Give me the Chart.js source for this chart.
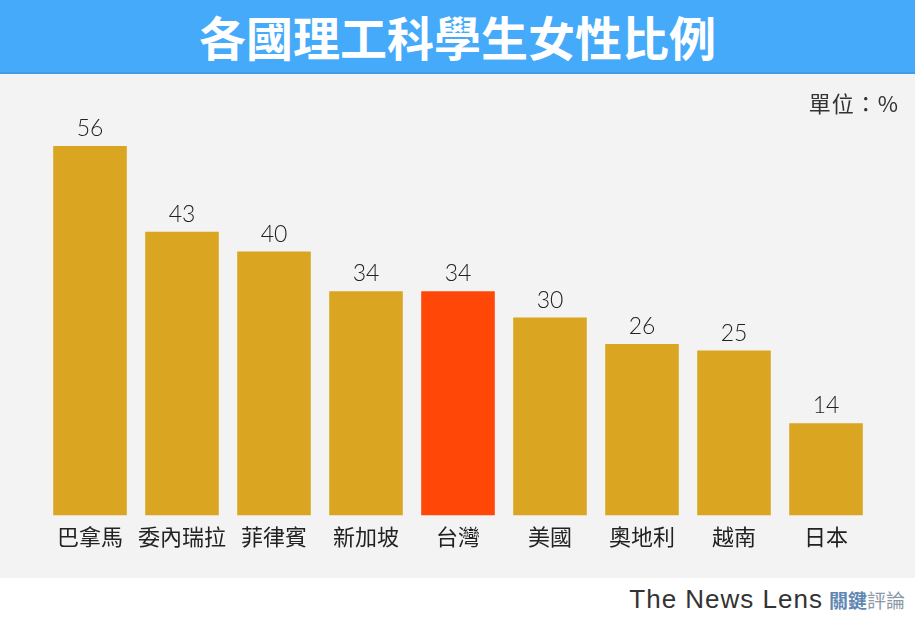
<!DOCTYPE html>
<html>
    <head>
        <title> 各國理工科學生女性比例 </title>
        <script src = "https://cdn.jsdelivr.net/npm/chart.js"> </script>
        <style>
            body { margin: 0; width: 915px; height: 619px; background: #ffffff; font-family: "Noto Sans CJK TC", sans-serif; overflow: hidden; }
            #banner { height: 72px; background: #45aafa; border-bottom: 2px solid #3d9de8; color: #ffffff;
                      font-weight: 700; font-size: 47px; text-align: center; line-height: 72px; }
            #panel { position: relative; height: 504px; background: #f3f3f3; }
            #unit { position: absolute; right: 16px; top: 12px; font-size: 22px; color: #333333; letter-spacing: 1px; }
            #footer { position: relative; height: 41px; }
            #brand { position: absolute; right: 10px; top: 6px; white-space: nowrap; }
            #brand .en { font-family: "Liberation Sans", sans-serif; font-size: 26px; color: #333333; letter-spacing: 1px; margin-right: 6px; }
            #brand .zh { font-size: 19px; color: #8a9aa8; }
            #brand .zh b { color: #5f87b3; font-weight: 700; }
        </style>
    </head>

    <body onload = "createChart()">
            <div id="banner">各國理工科學生女性比例</div>
            <div id="panel">
                <div id="unit">單位：%</div>
                <canvas id="myChart" width="915" height="504"></canvas>
            </div>
            <div id="footer">
                <div id="brand"><span class="en">The News Lens</span><span class="zh"><b>關鍵</b>評論</span></div>
            </div>

            <script>
                const countries = ['巴拿馬', '委內瑞拉', '菲律賓', '新加坡', '台灣', '美國', '奧地利', '越南', '日本'];
                const femaleShare = [56, 43, 40, 34, 34, 30, 26, 25, 14];
                const highlight = '台灣';

                // draws the number above each bar
                const valueLabels = {
                    id: 'valueLabels',
                    afterDatasetsDraw(chart) {
                        const ctx = chart.ctx;
                        const meta = chart.getDatasetMeta(0);
                        ctx.save();
                        ctx.font = '300 23px Lato, sans-serif';
                        ctx.fillStyle = '#222222';
                        ctx.textAlign = 'center';
                        ctx.textBaseline = 'bottom';
                        meta.data.forEach((bar, i) => {
                            ctx.fillText(femaleShare[i], bar.x, bar.y - 6);
                        });
                        ctx.restore();
                    }
                };

                function createChart() {
                    const ctx = document.getElementById('myChart');
                    new Chart(ctx, {
                        type: 'bar',
                        data: {
                            labels: countries,
                            datasets: [{
                                data: femaleShare,
                                backgroundColor: countries.map(c => c === highlight ? '#ff4707' : '#daa520'),
                                borderWidth: 0,
                                barPercentage: 0.8,
                                categoryPercentage: 1
                            }]
                        },
                        options: {
                            responsive: false,
                            animation: false,
                            layout: { padding: { left: 44, right: 43, top: 72, bottom: 28 } },
                            plugins: { legend: { display: false }, tooltip: { enabled: false } },
                            scales: {
                                x: {
                                    grid: { display: false },
                                    border: { display: false },
                                    ticks: { color: '#222222', font: { size: 22, family: '"Noto Sans CJK TC"' }, padding: 0, maxRotation: 0 }
                                },
                                y: { display: false, min: 0, max: 56 }
                            }
                        },
                        plugins: [valueLabels]
                    });
                }
            </script>
    </body>
</html>
